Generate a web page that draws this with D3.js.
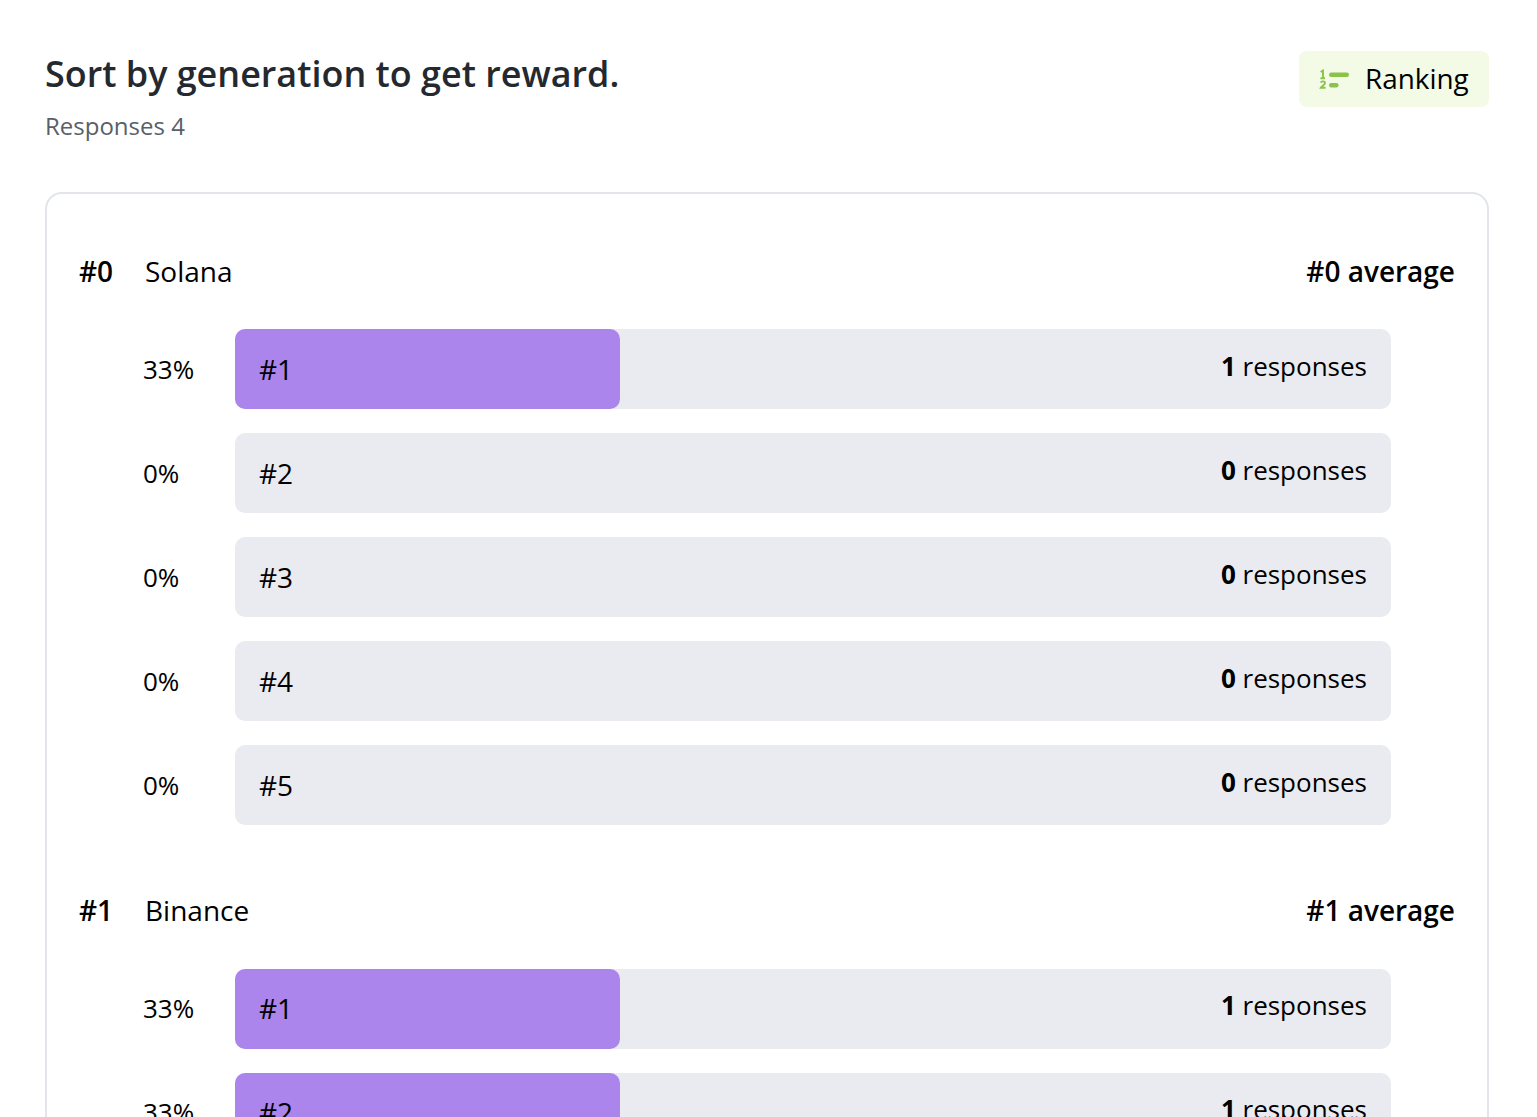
<!DOCTYPE html>
<html><head><meta charset="utf-8">
<script src="https://cdn.jsdelivr.net/npm/d3@7"></script>
<style>html,body{margin:0;padding:0;background:#fff;overflow:hidden}svg{display:block;font-family:"Open Sans",sans-serif}</style>
</head><body><svg id="c" width="1537" height="1117"></svg>
<script>
const title = "Sort by generation to get reward.";
const subtitle = "Responses 4";
const badge = "Ranking";
const groupRanks = ["#0", "#1"];
const groupNames = ["Solana", "Binance"];
const rowLabels = ["#1", "#2", "#3", "#4", "#5"];
const solanaCounts = [1, 0, 0, 0, 0];
const binanceCounts = [1, 1];
const solanaPct = [33, 0, 0, 0, 0];
const binancePct = [33, 33];
const groupCounts = [solanaCounts, binanceCounts];
const groupPcts = [solanaPct, binancePct];

const svg = d3.select("#c");
const x = d3.scaleLinear().domain([0, 100]).range([235, 1391]);
const BAR_H = 80, STEP = 104;
const rowY = d3.scaleLinear().domain([0, 1]).range([0, STEP]);
const groupTop = d3.scaleOrdinal().domain([0, 1]).range([329, 969]);
const headY = d3.scaleOrdinal().domain([0, 1]).range([282, 921]);
const textShift = d3.scaleOrdinal().domain([0, 1]).range([0, -1]);
const ink = "#000";

svg.append("text").attr("x", 45).attr("y", 87).attr("font-size", 35.95).attr("font-weight", 600)
  .attr("fill", "#24292f").text(title);
svg.append("text").attr("x", 45).attr("y", 135).attr("font-size", 24).attr("fill", "#57606a").text(subtitle);

svg.append("rect").attr("x", 1299).attr("y", 51).attr("width", 190).attr("height", 56).attr("rx", 8).attr("fill", "#f3fae6");
const ic = svg.append("g").attr("fill", "#8bc34a");
ic.append("rect").attr("x", 1329).attr("y", 72.5).attr("width", 20).attr("height", 4.5).attr("rx", 2.25);
ic.append("rect").attr("x", 1329).attr("y", 83).attr("width", 9.5).attr("height", 4.5).attr("rx", 2.25);
ic.append("path").attr("fill", "none").attr("stroke", "#8bc34a").attr("stroke-width", 1.9)
  .attr("d", "M1320.6 71.8L1323 70.6V78.2M1320.4 78.2H1325M1320.8 82.6C1321.4 80.9 1325 81 1325 83C1325 84.8 1321.8 86 1320.8 87.8H1325.6");
svg.append("text").attr("x", 1365).attr("y", 89).attr("font-size", 27.9).attr("fill", ink).text(badge);

svg.append("rect").attr("x", 46).attr("y", 193).attr("width", 1442).attr("height", 1100).attr("rx", 16)
  .attr("fill", "#fff").attr("stroke", "#e2e6ea").attr("stroke-width", 2);

groupNames.forEach((name, g) => {
  const top = groupTop(g), hy = headY(g), s = textShift(g);
  svg.append("text").attr("x", 79).attr("y", hy).attr("font-size", 28).attr("font-weight", 600).attr("fill", ink).text(groupRanks[g]);
  svg.append("text").attr("x", 145).attr("y", hy).attr("font-size", 28).attr("fill", ink).text(name);
  svg.append("text").attr("x", 1455).attr("y", hy).attr("text-anchor", "end").attr("font-size", 28).attr("font-weight", 600).attr("fill", ink).text(groupRanks[g] + " average");

  const pcts = groupPcts[g], counts = groupCounts[g];
  const rows = svg.append("g").selectAll("g").data(pcts).join("g")
    .attr("transform", (d, i) => `translate(0,${top + rowY(i)})`);
  rows.append("rect").attr("x", x(0)).attr("width", x(100) - x(0)).attr("height", BAR_H).attr("rx", 10).attr("fill", "#eaebf0");
  rows.filter(d => d > 0).append("rect").attr("x", x(0)).attr("width", d => x(d) - x(0) + 3.5).attr("height", BAR_H).attr("rx", 10).attr("fill", "#ab84ec");
  rows.append("text").attr("x", 143).attr("y", 50 + s).attr("font-size", 26).attr("fill", ink).text(d => d + "%");
  rows.append("text").attr("x", 259).attr("y", 51 + s).attr("font-size", 28).attr("fill", ink).text((d, i) => rowLabels[i]);
  const r = rows.append("text").attr("x", 1367).attr("y", 47 + s).attr("text-anchor", "end").attr("font-size", 26).attr("fill", ink);
  r.append("tspan").attr("font-weight", 700).text((d, i) => counts[i]);
  r.append("tspan").text(" responses");
});
</script></body></html>
